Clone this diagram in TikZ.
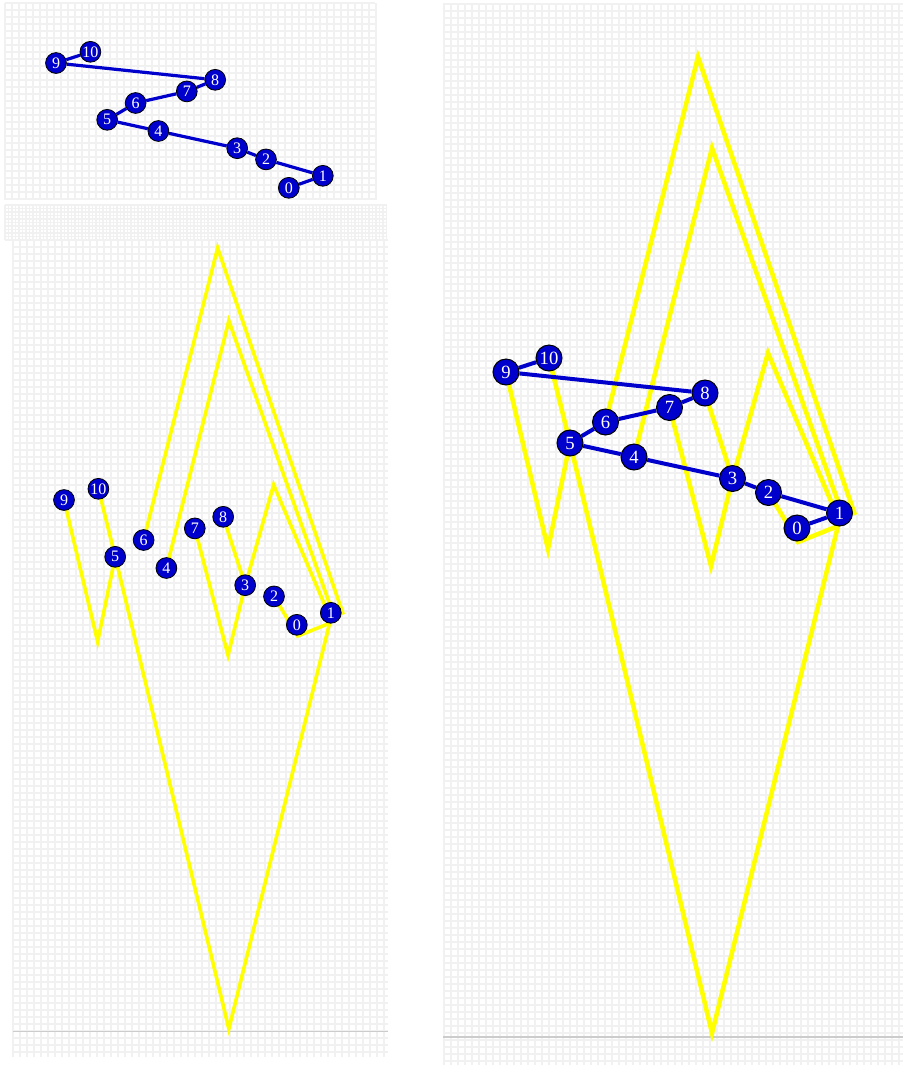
\documentclass[tikz,border=0pt]{standalone}
\usepackage{fontspec}
\setmainfont{Liberation Serif}
\pgfdeclarelayer{bg}
\pgfdeclarelayer{edges}
\pgfsetlayers{bg,edges,main}
\definecolor{gridc}{RGB}{241,241,241}
\definecolor{nodeblue}{RGB}{0,0,204}
\definecolor{ylw}{RGB}{255,255,0}
\definecolor{baseg}{RGB}{204,204,204}
\tikzset{
  vtxR/.style={circle, draw=black, line width=0.75pt, fill=nodeblue, text=white,
    inner sep=0pt, minimum size=19.5pt, font=\fontsize{14}{14}\selectfont},
  vtxL/.style={circle, draw=black, line width=0.6pt, fill=nodeblue, text=white,
    inner sep=0pt, minimum size=15.6pt, font=\fontsize{12}{12}\selectfont},
  blueR/.style={draw=nodeblue, line width=3pt},
  blueL/.style={draw=nodeblue, line width=2.4pt},
  ylwR/.style={draw=ylw, line width=3.4pt},
  ylwL/.style={draw=ylw, line width=2.7pt},
  gridline/.style={draw=gridc, line width=1pt},
  baseline/.style={draw=baseg, line width=0.9pt},
}
\newcommand\placenodes[2]{%
  \foreach \n/\px/\py in {0/797/528, 1/839.5/513, 2/768.5/492.5, 3/732.5/478.5,
      4/634/457, 5/570/443, 6/605.5/422, 7/669.5/407.5, 8/705/393, 9/506/372, 10/549/358}
    {\node[#2] (#1n\n) at (\px,\py) {\n};}%
}
\newcommand\ycoords[1]{%
  \coordinate (#1Va) at (548,549);
  \coordinate (#1B) at (712,1033);
  \coordinate (#1Yone) at (838,526);
  \coordinate (#1Yzero) at (798,542);
  \coordinate (#1Pa) at (698,57);
  \coordinate (#1Pb) at (712,148);
  \coordinate (#1Pc) at (768,353);
  \coordinate (#1Vb) at (711,566);
  \coordinate (#1Ea) at (855,515);
  \coordinate (#1Eb) at (842,513);
  \coordinate (#1Ec) at (836,513);
}
\newcommand\yedges[2]{%
  \begin{pgfonlayer}{edges}
  \draw[#2] (#1n9.center) -- (#1Va) -- (#1n5.center);
  \draw[#2] (#1n10.center) -- (#1n5.center);
  \draw[#2] (#1n5.center) -- (#1B) -- (#1Yone);
  \draw[#2] (#1n6.center) -- (#1Pa) -- (#1Ea);
  \draw[#2] (#1n4.center) -- (#1Pb) -- (#1Eb);
  \draw[#2] (#1n3.center) -- (#1Pc) -- (#1Ec);
  \draw[#2] (#1n7.center) -- (#1Vb) -- (#1n3.center);
  \draw[#2] (#1n8.center) -- (#1n3.center);
  \draw[#2] (#1n2.center) -- (#1Yzero) -- (#1Yone);
  \end{pgfonlayer}%
}
\newcommand\bedges[2]{%
  \begin{pgfonlayer}{edges}
  \draw[#2] (#1n0) -- (#1n1) -- (#1n2) -- (#1n3) -- (#1n4) -- (#1n5) -- (#1n6)
     -- (#1n7) -- (#1n8) -- (#1n9) -- (#1n10);
  \end{pgfonlayer}%
}
\begin{document}
\begin{tikzpicture}[x=0.75pt, y=-0.75pt]
\useasboundingbox (0,0) rectangle (903,1065);
\begin{pgfonlayer}{bg}
  \fill[white] (0,0) rectangle (903,1065);
  % top-left grid
  \foreach \gx in {5,12,...,376} \draw[gridline] (\gx,3) -- (\gx,200);
  \foreach \gy in {3,10,...,200} \draw[gridline] (5,\gy) -- (375,\gy);
  % overlapping band
  \foreach \gx in {5,12,...,388} \draw[gridline] (\gx,205) -- (\gx,240);
  \foreach \gx in {8.5,15.5,...,388} \draw[gridline] (\gx,205) -- (\gx,240);
  \foreach \gy in {205,212,...,240} \draw[gridline] (5,\gy) -- (387,\gy);
  \foreach \gy in {208.5,215.5,...,240} \draw[gridline] (5,\gy) -- (387,\gy);
  % bottom-left grid
  \foreach \gx in {13,20,...,389} \draw[gridline] (\gx,240) -- (\gx,1057);
  \foreach \gy in {240,247,...,1057} \draw[gridline] (13,\gy) -- (388,\gy);
  \draw[baseline] (13,1031.5) -- (388,1031.5);
  % right grid
  \foreach \gx in {444,451,...,903} \draw[gridline] (\gx,3) -- (\gx,1065);
  \foreach \gy in {4,11,...,1065} \draw[gridline] (443,\gy) -- (903,\gy);
  \draw[baseline] (443,1037) -- (903,1037);
\end{pgfonlayer}

% top-left panel: blue graph only
\begin{scope}[shift={(-348.8,-234.6)}, scale=0.8]
  \placenodes{t}{vtxL}
  \bedges{t}{blueL}
\end{scope}

% bottom-left panel: yellow edges only
\begin{scope}[shift={(-340.8,202.4)}, scale=0.8]
  \placenodes{l}{vtxL}
  \ycoords{l}
  \yedges{l}{ylwL}
\end{scope}

% right panel: both
\begin{scope}
  \placenodes{r}{vtxR}
  \ycoords{r}
  \yedges{r}{ylwR}
  \bedges{r}{blueR}
\end{scope}
\end{tikzpicture}
\end{document}
